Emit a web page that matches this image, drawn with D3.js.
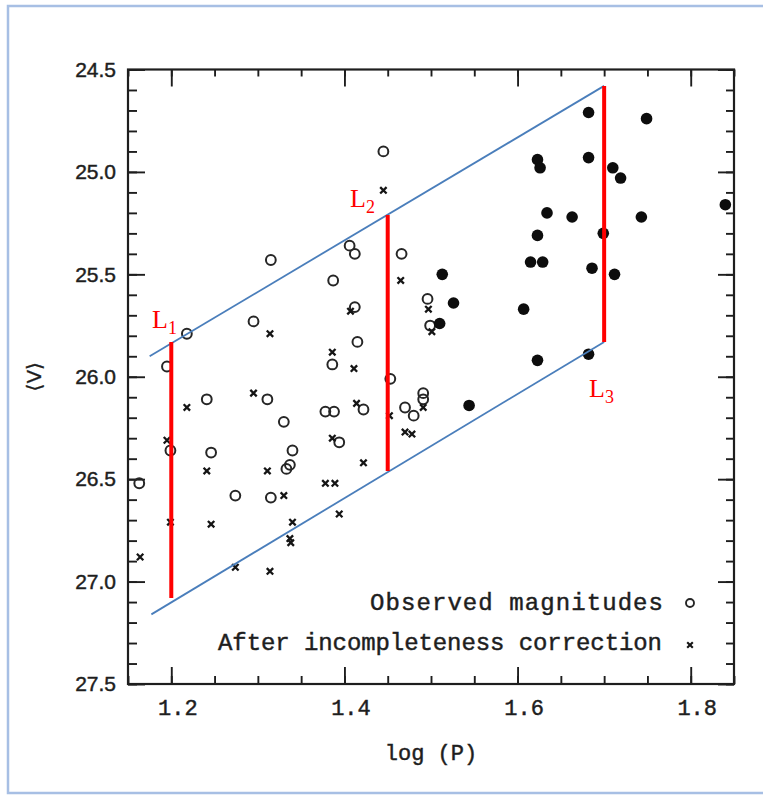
<!DOCTYPE html>
<html>
<head>
<meta charset="utf-8">
<script src="https://cdn.jsdelivr.net/npm/d3@7"></script>
<style>
  body { margin: 0; background: #fff; }
  svg { display: block; }
</style>
</head>
<body>
<script>

// observed magnitudes (open circles): [log P, <V>]
var observed = [
    [1.163, 26.52], [1.195, 25.95], [1.218, 25.79], [1.199, 26.36], [1.241, 26.11],
    [1.246, 26.37], [1.315, 25.43], [1.295, 25.73], [1.311, 26.11], [1.330, 26.22],
    [1.340, 26.36], [1.274, 26.58], [1.315, 26.59], [1.333, 26.45], [1.337, 26.43],
    [1.406, 25.36], [1.412, 25.40], [1.387, 25.53], [1.412, 25.66], [1.415, 25.83],
    [1.386, 25.94], [1.378, 26.17], [1.388, 26.17], [1.422, 26.16], [1.394, 26.32],
    [1.453, 26.01], [1.470, 26.15], [1.480, 26.19], [1.491, 26.08], [1.491, 26.11],
    [1.496, 25.62], [1.499, 25.75], [1.445, 24.90], [1.466, 25.40]
];

// after incompleteness correction (crosses)
var corrected = [
    [1.164, 26.88], [1.195, 26.31], [1.199, 26.71], [1.218, 26.15], [1.241, 26.46],
    [1.246, 26.72], [1.274, 26.93], [1.295, 26.08], [1.311, 26.46], [1.314, 25.79],
    [1.314, 26.95], [1.330, 26.58], [1.337, 26.79], [1.338, 26.81], [1.340, 26.71],
    [1.378, 26.52], [1.389, 26.52], [1.394, 26.67], [1.386, 25.88], [1.386, 26.30],
    [1.407, 25.68], [1.411, 25.96], [1.414, 26.13], [1.422, 26.42], [1.445, 25.09],
    [1.452, 26.19], [1.465, 25.53], [1.470, 26.27], [1.478, 26.28], [1.491, 26.15],
    [1.497, 25.67], [1.501, 25.78]
];

// both (filled dots)
var both = [
    [1.513, 25.50], [1.526, 25.64], [1.510, 25.74], [1.544, 26.14], [1.607, 25.67],
    [1.623, 25.92], [1.615, 25.44], [1.629, 25.44], [1.623, 25.31], [1.623, 24.94],
    [1.626, 24.98], [1.634, 25.20], [1.663, 25.22], [1.682, 24.71], [1.682, 24.93],
    [1.699, 25.30], [1.686, 25.47], [1.682, 25.89], [1.710, 24.98], [1.719, 25.03],
    [1.743, 25.22], [1.712, 25.50], [1.749, 24.74], [1.840, 25.16]
];

// instability strip edges
var stripLines = [
    [[1.175, 25.90], [1.700, 24.58]],
    [[1.177, 27.16], [1.700, 25.83]]
];

// L1, L2, L3: [log P, top, bottom]
var cuts = [
    {name: "L", sub: "1", x: 1.20, top: 25.83, bottom: 27.08},
    {name: "L", sub: "2", x: 1.45, top: 25.21, bottom: 26.46},
    {name: "L", sub: "3", x: 1.70, top: 24.58, bottom: 25.83}
];

var xMajor = [1.2, 1.4, 1.6, 1.8];
var xMinor = d3.range(1.15, 1.851, 0.05);
var yMajor = [24.5, 25.0, 25.5, 26.0, 26.5, 27.0, 27.5];
var yMinor = d3.range(24.5, 27.51, 0.1);

var legendLabels = ["Observed magnitudes", "After incompleteness correction"];

var W = 763, H = 796;
var box = {left: 128, right: 734, top: 69.5, bottom: 684};

var svg = d3.select("body").append("svg")
    .attr("width", W)
    .attr("height", H);

// outer frame of the scanned figure
svg.append("rect")
    .attr("x", 8).attr("y", 6)
    .attr("width", 762).attr("height", 787)
    .attr("fill", "none")
    .attr("stroke", "#a7bfe4")
    .attr("stroke-width", 2.5);

var x = d3.scaleLinear().domain([1.15, 1.85]).range([box.left, box.right]);
var y = d3.scaleLinear().domain([24.5, 27.5]).range([box.top, box.bottom]);

var ink = "#1e1e1e";

function styleAxis(g) {
    g.select(".domain").remove();
    g.selectAll("line").attr("stroke", ink).attr("stroke-width", 1.9);
}

function inkText(sel) {
    sel.attr("fill", ink).attr("stroke", ink).attr("stroke-width", 0.45);
}

// bottom
svg.append("g").attr("transform", "translate(0," + box.bottom + ")")
    .call(d3.axisBottom(x).tickValues(xMinor).tickSize(-8).tickFormat(""))
    .call(styleAxis);
svg.append("g").attr("transform", "translate(0," + box.bottom + ")")
    .call(d3.axisBottom(x).tickValues(xMajor).tickSize(-17).tickPadding(15).tickFormat(d3.format(".1f")))
    .call(styleAxis)
    .call(function (g) {
        g.selectAll("text")
            .attr("dx", 6)
            .call(inkText)
            .style("font-family", "'Liberation Mono', monospace")
            .style("font-size", "22px");
    });

// top
svg.append("g").attr("transform", "translate(0," + box.top + ")")
    .call(d3.axisTop(x).tickValues(xMinor).tickSize(-7).tickFormat(""))
    .call(styleAxis);
svg.append("g").attr("transform", "translate(0," + box.top + ")")
    .call(d3.axisTop(x).tickValues(xMajor).tickSize(-17).tickFormat(""))
    .call(styleAxis);

// left
svg.append("g").attr("transform", "translate(" + box.left + ",0)")
    .call(d3.axisLeft(y).tickValues(yMinor).tickSize(-9).tickFormat(""))
    .call(styleAxis);
svg.append("g").attr("transform", "translate(" + box.left + ",0)")
    .call(d3.axisLeft(y).tickValues(yMajor).tickSize(-17).tickPadding(12).tickFormat(d3.format(".1f")))
    .call(styleAxis)
    .call(function (g) {
        g.selectAll("text")
            .call(inkText)
            .style("font-family", "'Liberation Sans', Arial, sans-serif")
            .style("font-size", "21px");
    });

// right
svg.append("g").attr("transform", "translate(" + box.right + ",0)")
    .call(d3.axisRight(y).tickValues(yMinor).tickSize(-8).tickFormat(""))
    .call(styleAxis);
svg.append("g").attr("transform", "translate(" + box.right + ",0)")
    .call(d3.axisRight(y).tickValues(yMajor).tickSize(-16).tickFormat(""))
    .call(styleAxis);

// plot box
svg.append("rect")
    .attr("x", box.left).attr("y", box.top)
    .attr("width", box.right - box.left).attr("height", box.bottom - box.top)
    .attr("fill", "none")
    .attr("stroke", ink)
    .attr("stroke-width", 2.2);

// axis titles
svg.append("text")
    .attr("transform", "translate(41," + y(26.0) + ") rotate(-90)")
    .attr("text-anchor", "middle")
    .call(inkText)
    .attr("stroke-width", 0.3)
    .style("font-family", "'DejaVu Sans', sans-serif")
    .style("font-size", "20px")
    .text("\u27E8V\u27E9");

svg.append("text")
    .attr("x", 431).attr("y", 760)
    .attr("text-anchor", "middle")
    .call(inkText)
    .style("font-family", "'Liberation Mono', monospace")
    .style("font-size", "22px")
    .text("log (P)");

// points
var cross = "M-3.2,-3.2L3.2,3.2M-3.2,3.2L3.2,-3.2";

svg.append("g").selectAll("circle")
    .data(observed).enter().append("circle")
    .attr("cx", function (d) { return x(d[0]); })
    .attr("cy", function (d) { return y(d[1]); })
    .attr("r", 4.9)
    .attr("fill", "none")
    .attr("stroke", "#262626")
    .attr("stroke-width", 2);

svg.append("g").selectAll("path")
    .data(corrected).enter().append("path")
    .attr("transform", function (d) { return "translate(" + x(d[0]) + "," + y(d[1]) + ")"; })
    .attr("d", cross)
    .attr("stroke", "#151515")
    .attr("stroke-width", 2.3);

svg.append("g").selectAll("circle")
    .data(both).enter().append("circle")
    .attr("cx", function (d) { return x(d[0]); })
    .attr("cy", function (d) { return y(d[1]); })
    .attr("r", 5.8)
    .attr("fill", "#0d0d0d");

// legend
var legendFont = "'Liberation Mono', monospace";
svg.append("text")
    .attr("x", 370).attr("y", 610)
    .attr("textLength", 293)
    .call(inkText)
    .style("font-family", legendFont)
    .style("font-size", "24px")
    .text(legendLabels[0]);
svg.append("text")
    .attr("x", 218).attr("y", 650)
    .attr("textLength", 444)
    .call(inkText)
    .style("font-family", legendFont)
    .style("font-size", "24px")
    .text(legendLabels[1]);
svg.append("circle")
    .attr("cx", 690).attr("cy", 603).attr("r", 4)
    .attr("fill", "none").attr("stroke", "#262626").attr("stroke-width", 1.9);
svg.append("path")
    .attr("transform", "translate(690,645)")
    .attr("d", "M-2.8,-2.8L2.8,2.8M-2.8,2.8L2.8,-2.8")
    .attr("stroke", "#151515").attr("stroke-width", 2.1);

// strip edges
var line = d3.line()
    .x(function (d) { return x(d[0]); })
    .y(function (d) { return y(d[1]); });

svg.append("g").selectAll("path")
    .data(stripLines).enter().append("path")
    .attr("d", line)
    .attr("fill", "none")
    .attr("stroke", "#4a7ebb")
    .attr("stroke-width", 1.8);

// red cuts
svg.append("g").selectAll("line")
    .data(cuts).enter().append("line")
    .attr("x1", function (d) { return x(d.x); })
    .attr("x2", function (d) { return x(d.x); })
    .attr("y1", function (d) { return y(d.top); })
    .attr("y2", function (d) { return y(d.bottom); })
    .attr("stroke", "#ff0000")
    .attr("stroke-width", 4);

var labelPos = [[152, 328], [350, 207], [589, 397]];

var labels = svg.append("g").selectAll("text")
    .data(cuts).enter().append("text")
    .attr("x", function (d, i) { return labelPos[i][0]; })
    .attr("y", function (d, i) { return labelPos[i][1]; })
    .attr("fill", "#ff0000")
    .style("font-family", "'Liberation Serif', 'Times New Roman', serif")
    .style("font-size", "26px");

labels.append("tspan").text(function (d) { return d.name; });
labels.append("tspan")
    .attr("dy", 6)
    .style("font-size", "18px")
    .text(function (d) { return d.sub; });

</script>
</body>
</html>
